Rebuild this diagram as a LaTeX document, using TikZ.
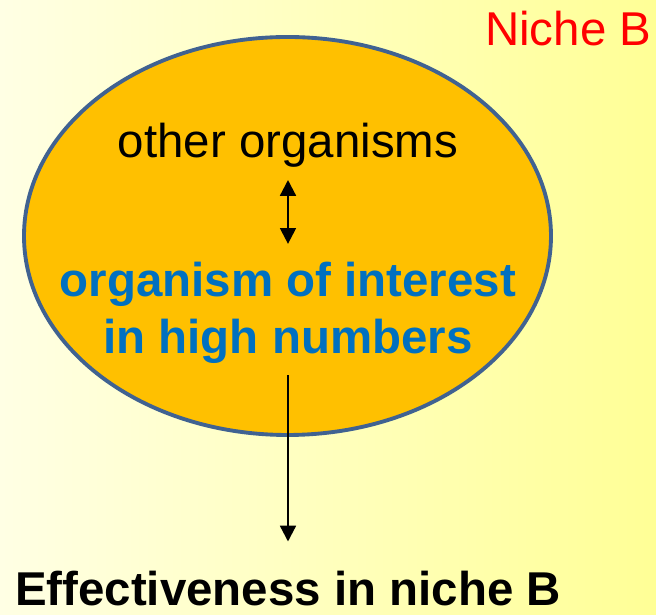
\documentclass[tikz,border=0pt]{standalone}
\usepackage{fontspec}
\setmainfont{Liberation Sans}
\usetikzlibrary{arrows.meta}

\definecolor{paleleft}{RGB}{255,255,228}
\definecolor{paleright}{RGB}{255,255,150}
\definecolor{nichefill}{RGB}{255,192,0}
\definecolor{nicheline}{RGB}{64,98,145}
\definecolor{interestblue}{RGB}{0,112,192}

\tikzset{
  bigtext/.style={font=\fontsize{27}{32.3}\selectfont},
  boldtext/.style={font=\fontsize{27}{32.3}\selectfont\bfseries},
  link/.style={-{Triangle[length=9pt,width=9pt]}, line width=1.3pt}
}

\begin{document}
\begin{tikzpicture}
\shade[left color=paleleft, right color=paleright] (0,0) rectangle (13.12,12.3);
\useasboundingbox (0,0) rectangle (13.12,12.3);

\draw[fill=nichefill, draw=nicheline, line width=2.2pt] (5.75,7.58) ellipse (5.27 and 3.98);

\node[bigtext, text=red, anchor=base east] (niche) at (13.15,11.38) {Niche B};

\node[bigtext, anchor=base] (other) at (5.76,9.14) {other organisms};
\node[boldtext, text=interestblue, align=center] (interest) at (5.76,6.04) {organism of interest\\in high numbers};

\node[boldtext, anchor=base] (effect) at (5.76,0.18) {Effectiveness in niche B};

\draw[link, {Triangle[length=9pt,width=9pt]}-{Triangle[length=9pt,width=9pt]}, shorten <=3.4pt, shorten >=7pt] (other) -- (interest);
\draw[link, shorten <=3pt, shorten >=13.6pt] (interest) -- (effect);
\end{tikzpicture}
\end{document}
